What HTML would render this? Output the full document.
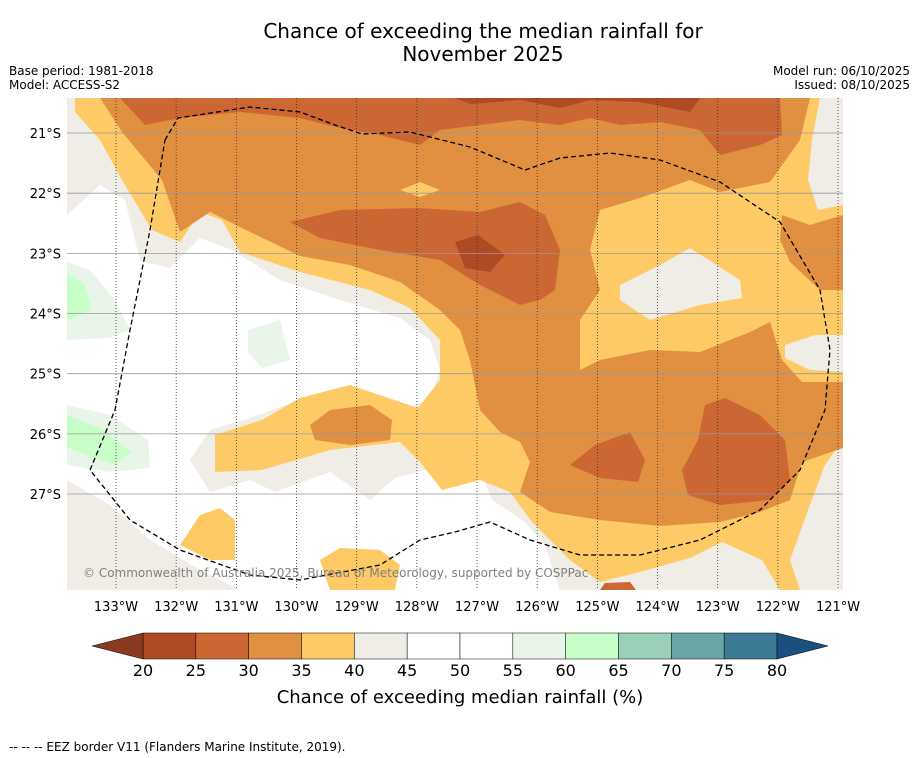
<!DOCTYPE html>
<html><head><meta charset="utf-8">
<style>
body{margin:0;background:#fff;font-family:"DejaVu Sans","Liberation Sans",sans-serif;}
#wrap{position:relative;width:919px;height:758px;overflow:hidden;}
</style></head>
<body>
<div id="wrap">
<svg id="svg" width="919" height="758" xmlns="http://www.w3.org/2000/svg" font-family="DejaVu Sans, Liberation Sans, sans-serif">
<text x="483" y="38" font-size="20" text-anchor="middle">Chance of exceeding the median rainfall for</text>
<text x="483" y="61" font-size="20" text-anchor="middle">November 2025</text>
<text x="9" y="75" font-size="12">Base period: 1981-2018</text>
<text x="9" y="89" font-size="12">Model: ACCESS-S2</text>
<text x="910" y="75" font-size="12" text-anchor="end">Model run: 06/10/2025</text>
<text x="910" y="89" font-size="12" text-anchor="end">Issued: 08/10/2025</text>
<defs><clipPath id="mc"><rect x="67" y="98" width="776" height="492"/></clipPath></defs>
<g clip-path="url(#mc)">
<rect x="67" y="98" width="776" height="492" fill="#f0ece6"/>
<path fill="#fff" d="M67,215 L100,185 L125,200 L140,260 L170,268 L200,238 L232,250 L280,280 L340,300 L400,318 L430,340 L440,370 L430,400 L400,410 L350,392 L300,400 L250,418 L210,430 L190,460 L210,492 L250,480 L275,492 L330,472 L370,500 L395,478 L425,470 L460,480 L480,470 L492,500 L525,522 L545,545 L560,590 L240,590 L200,570 L150,540 L110,505 L67,480 Z"/>
<path fill="#eaf5ea" d="M67,262 L90,270 L115,300 L130,330 L110,338 L67,340 Z"/>
<path fill="#c8ffc8" d="M67,272 L85,285 L92,310 L67,320 Z"/>
<path fill="#eaf5ea" d="M67,405 L110,415 L148,440 L150,468 L110,472 L67,465 Z"/>
<path fill="#c8ffc8" d="M67,415 L100,428 L132,452 L115,465 L67,448 Z"/>
<path fill="#eaf5ea" d="M248,330 L280,320 L290,360 L262,368 L248,352 Z"/>
<path fill="#fdca65" d="M75,98 L843,98 L843,590 L780,590 L762,560 L722,542 L690,558 L640,572 L600,582 L570,560 L532,522 L510,492 L480,480 L442,490 L420,462 L400,442 L330,450 L262,470 L215,472 L215,435 L262,420 L300,398 L350,385 L418,408 L440,380 L440,340 L410,308 L370,290 L300,272 L240,252 L222,220 L200,212 L180,242 L152,230 L122,180 L100,140 L75,112 Z"/>
<path fill="#f0ece6" d="M620,285 L660,265 L690,248 L740,280 L742,298 L700,305 L650,320 L620,300 Z"/>
<path fill="#f0ece6" d="M785,345 L815,335 L843,335 L843,372 L810,370 L785,358 Z"/>
<path fill="#f0ece6" d="M843,98 L843,205 L818,210 L808,180 L812,140 L820,98 Z"/>
<path fill="#f0ece6" d="M843,440 L843,590 L800,590 L790,560 L808,510 L825,465 Z"/>
<path fill="#fdca65" d="M180,545 L200,515 L220,508 L235,520 L235,560 L210,560 Z"/>
<path fill="#fdca65" d="M320,560 L340,548 L380,550 L400,565 L395,590 L330,590 Z"/>
<path fill="#e09040" d="M100,98 L810,98 L800,140 L770,182 L720,192 L690,180 L640,198 L600,210 L590,250 L600,290 L580,320 L580,370 L600,360 L650,350 L700,352 L750,332 L770,322 L782,360 L802,382 L843,382 L843,448 L802,462 L790,500 L760,512 L720,522 L660,526 L600,520 L550,512 L520,492 L530,462 L520,442 L500,432 L480,410 L470,360 L460,330 L440,310 L400,282 L350,265 L300,256 L250,232 L210,212 L180,232 L162,180 L122,132 Z"/>
<path fill="#e09040" d="M782,215 L810,225 L843,215 L843,290 L820,290 L790,262 L780,240 Z"/>
<path fill="#e09040" d="M310,425 L330,410 L370,405 L392,420 L390,440 L350,445 L315,440 Z"/>
<path fill="#fdca65" d="M400,190 L420,182 L440,190 L420,197 Z"/>
<path fill="#cc6633" d="M120,98 L780,98 L782,135 L760,145 L720,155 L700,130 L660,122 L620,125 L590,118 L560,125 L520,120 L480,125 L440,130 L420,145 L380,135 L340,128 L300,118 L240,112 L180,118 L145,125 Z"/>
<path fill="#cc6633" d="M290,222 L340,210 L420,208 L480,212 L520,202 L545,215 L560,250 L555,290 L540,300 L520,305 L480,285 L440,260 L380,250 L320,238 Z"/>
<path fill="#cc6633" d="M705,405 L725,398 L760,415 L785,440 L790,480 L770,500 L720,505 L688,495 L682,470 L698,440 Z"/>
<path fill="#cc6633" d="M570,465 L595,445 L630,432 L645,460 L638,482 L600,478 Z"/>
<path fill="#cc6633" d="M600,590 L605,583 L630,582 L636,590 Z"/>
<path fill="#b04a25" d="M455,98 L700,98 L690,112 L640,102 L590,100 L560,108 L520,100 L470,104 Z"/>
<path fill="#b04a25" d="M455,242 L478,235 L505,255 L490,272 L465,268 Z"/>
<g id="grid"></g>
<path fill="none" stroke="#000" stroke-width="1.3" stroke-dasharray="5,3" d="M165,140 L178,118 L250,107 L300,112 L335,125 L362,134 L410,132 L470,147 L525,170 L560,158 L610,153 L660,160 L720,182 L780,222 L820,290 L830,350 L825,410 L800,470 L760,510 L700,540 L640,555 L580,555 L530,540 L490,522 L455,532 L420,540 L380,565 L300,580 L250,575 L180,550 L130,520 L90,470 L115,410 L130,330 L150,230 Z"/>
<text x="83" y="577" font-size="12" fill="#808080">© Commonwealth of Australia 2025, Bureau of Meteorology, supported by COSPPac</text>
</g>
<g id="axes"></g>
<g id="cbar"></g>
<text x="460" y="703" font-size="18" text-anchor="middle">Chance of exceeding median rainfall (%)</text>
<text x="9" y="751" font-size="12">--  --  -- EEZ border V11 (Flanders Marine Institute, 2019).</text>
</svg>
</div>
<script>
const lonTicks=[133,132,131,130,129,128,127,126,125,124,123,122,121];
const latTicks=[21,22,23,24,25,26,27];
const cbLevels=[20,25,30,35,40,45,50,55,60,65,70,75,80];
const cbColors=["#b04a25","#cc6633","#e09040","#fdca65","#f0ece6","#ffffff","#ffffff","#eaf5ea","#c8ffc8","#9bd0b8","#6aa5a5","#3d7a95"];
const cbUnder="#8a3a1e", cbOver="#1a4f80";
const NS="http://www.w3.org/2000/svg";
const xLon=l=>116+(133-l)*60.17;
const yLat=l=>133+(l-21)*60.17;
const grid=document.getElementById('grid'),axes=document.getElementById('axes'),cb=document.getElementById('cbar');
function mk(t,a,p){const e=document.createElementNS(NS,t);for(const k in a)e.setAttribute(k,a[k]);p.appendChild(e);return e;}
lonTicks.forEach(l=>{
 const x=xLon(l);
 const g=mk('line',{x1:x,x2:x,y1:98,y2:590,stroke:'#333','stroke-width':0.8,'stroke-dasharray':'1,2'},grid);
 
 
 const t=mk('text',{x:x,y:611,'font-size':13,'text-anchor':'middle'},axes);
 t.textContent=l+'°W';
 
 
});
latTicks.forEach(l=>{
 const y=yLat(l);
 const g=mk('line',{x1:67,x2:843,y1:y,y2:y,stroke:'#999','stroke-width':0.8},grid);
 
 
 const t=mk('text',{x:61,y:y+5,'font-size':13,'text-anchor':'end'},axes);
 t.textContent=l+'°S';
 
 
});
const cx0=143,cx1=777,cy0=633,cy1=659;
const cx=v=>cx0+(v-cbLevels[0])/(cbLevels[cbLevels.length-1]-cbLevels[0])*(cx1-cx0);
for(let i=0;i<cbColors.length;i++){
 const r=mk('rect',{x:cx(cbLevels[i]),y:cy0,width:cx(cbLevels[i+1])-cx(cbLevels[i]),height:cy1-cy0,fill:cbColors[i],stroke:'#000','stroke-width':0.5},cb);
 
 
}
const u=mk('polygon',{points:`${cx0},${cy0} 92,${(cy0+cy1)/2} ${cx0},${cy1}`,fill:cbUnder,stroke:'#000','stroke-width':0.5},cb);


const o=mk('polygon',{points:`${cx1},${cy0} 828,${(cy0+cy1)/2} ${cx1},${cy1}`,fill:cbOver,stroke:'#000','stroke-width':0.5},cb);


cbLevels.forEach(v=>{
 const t=mk('text',{x:cx(v),y:676,'font-size':16,'text-anchor':'middle'},cb);
 t.textContent=v;
 
 
});
</script>
</body></html>
